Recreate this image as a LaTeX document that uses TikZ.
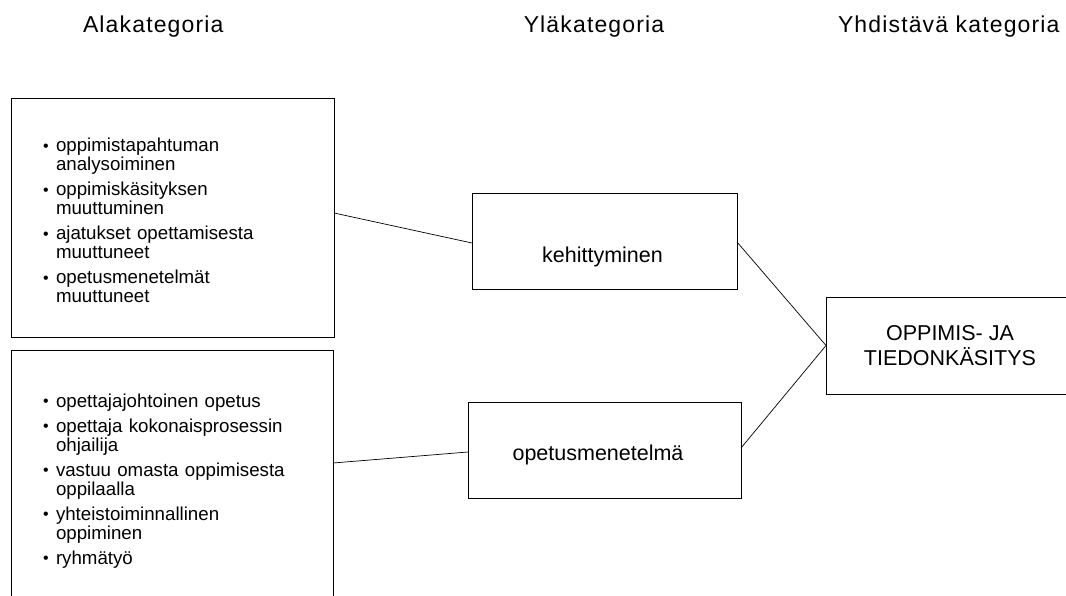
\documentclass[tikz,border=0pt]{standalone}
\usepackage{fontspec}
\setmainfont{Liberation Sans}
\newfontfamily\headfont[LetterSpace=5]{Liberation Sans}
% one bulleted entry: bullet in a fixed-width box, continuation lines hang under the text
\newcommand\bulletitem[1]{\hangindent=13pt\hangafter=1\noindent
  \makebox[13pt][l]{\fontsize{16pt}{16pt}\selectfont\raisebox{0.3pt}{\textbullet}}#1\par}
\begin{document}
\begin{tikzpicture}[x=1pt,y=-1pt,
  every node/.style={inner sep=0pt, outer sep=0pt},
  frame/.style={draw=black, line width=0.9pt},
  link/.style={draw=black, line width=0.7pt},
  head/.style={font=\headfont\fontsize{23pt}{27pt}\selectfont},
  boxlabel/.style={font=\fontsize{21.5pt}{25pt}\selectfont},
  listtext/.style={font=\fontsize{18.7pt}{19pt}\selectfont, text width=270pt,
    align=left, anchor=base west}]
\useasboundingbox (0,0) rectangle (1066,596);
\fill[white] (0,0) rectangle (1066,596);
\clip (0,0) rectangle (1066,596);

% column headings
\node[head, anchor=base west] (h1) at (83,33) {Alakategoria};
\node[head, anchor=base] (h2) at (594,33) {Yläkategoria};
\node[head, anchor=base west] (h3) at (838,33) {Yhdistävä kategoria};

% sub-category boxes
\node[frame, minimum width=323pt, minimum height=239pt] (b1) at (172.5,217.5) {};
\node[frame, minimum width=322pt, minimum height=270pt] (b2) at (172,485) {};
\node[listtext] (l1) at (43,152) {\setlength{\parskip}{6pt}%
  \bulletitem{oppimistapahtuman\newline analysoiminen}%
  \bulletitem{oppimiskäsityksen\newline muuttuminen}%
  \bulletitem{ajatukset opettamisesta\newline muuttuneet}%
  \bulletitem{opetusmenetelmät\newline muuttuneet}};
\node[listtext] (l2) at (43,407) {\setlength{\parskip}{6pt}%
  \bulletitem{opettajajohtoinen opetus}%
  \bulletitem{opettaja kokonaisprosessin\newline ohjailija}%
  \bulletitem{vastuu omasta oppimisesta\newline oppilaalla}%
  \bulletitem{yhteistoiminnallinen\newline oppiminen}%
  \bulletitem{ryhmätyö}};

% upper-category boxes
\node[frame, minimum width=265pt, minimum height=96pt] (b3) at (604.5,241) {};
\node[frame, minimum width=273pt, minimum height=96pt] (b4) at (604.5,450) {};
\node[boxlabel, anchor=base] (k3) at (602.5,262) {kehittyminen};
\node[boxlabel, anchor=base] (k4) at (598,460) {opetusmenetelmä};

% combining category
\node[frame, boxlabel, align=center, minimum width=248pt, minimum height=97pt]
  (b5) at (950,345.5) {OPPIMIS- JA\\TIEDONKÄSITYS};

% connectors
\draw[link] ([yshift=4.5pt]b1.east) -- ([yshift=-2pt]b3.west);
\draw[link] ([yshift=22pt]b2.east) -- ([yshift=-2pt]b4.west);
\draw[link] ([yshift=-1pt]b3.east) -- (b5.west);
\draw[link] ([yshift=2pt]b4.east) -- (b5.west);
\end{tikzpicture}
\end{document}
